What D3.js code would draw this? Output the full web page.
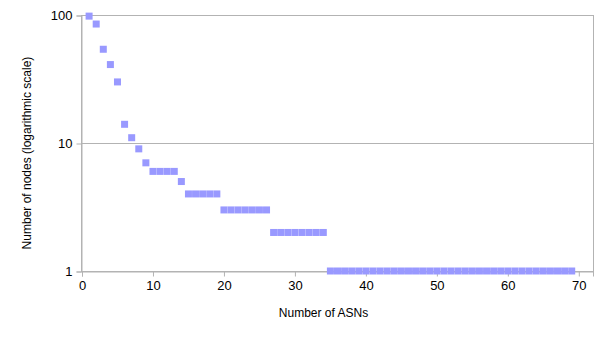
<!DOCTYPE html>
<html>
<head>
<meta charset="utf-8">
<script src="https://cdn.jsdelivr.net/npm/d3@7"></script>
<style>
  body { margin: 0; background: #fff; }
  text { font-family: "Liberation Sans", Arial, sans-serif; fill: #000; }
</style>
</head>
<body>
<svg id="chart" width="605" height="340"></svg>
<script>
// ASN counts (x) and node counts (y)
var asns = d3.range(1, 70);
var nodes = [98, 85, 54, 41, 30, 14, 11, 9, 7,
  6, 6, 6, 6, 5,
  4, 4, 4, 4, 4,
  3, 3, 3, 3, 3, 3, 3,
  2, 2, 2, 2, 2, 2, 2, 2]
  .concat(d3.range(35, 70).map(function() { return 1; }));
var xTicks = [0, 10, 20, 30, 40, 50, 60, 70];
var yTicks = [1, 10, 100];

var svg = d3.select('#chart');
var margin = { top: 15, right: 12, bottom: 69, left: 82 };
var width = 605 - margin.left - margin.right,
  height = 340 - margin.top - margin.bottom;

var x = d3.scaleLinear().domain([0, 72]).range([0, width]);
var y = d3.scaleLog().domain([1, 100]).range([height, 0]);

var g = svg.append('g')
  .attr('transform', 'translate(' + margin.left + ',' + margin.top + ')');

// grid lines
g.selectAll('.grid')
  .data(yTicks)
  .enter().append('line')
  .attr('x1', 0).attr('x2', width)
  .attr('y1', function(d) { return y(d) + 0.5; })
  .attr('y2', function(d) { return y(d) + 0.5; })
  .attr('stroke', '#b3b3b3');

// frame
g.append('rect')
  .attr('x', -0.5).attr('y', 0.5)
  .attr('width', width + 1).attr('height', height)
  .attr('fill', 'none').attr('stroke', '#b3b3b3');

var xAxis = g.append('g')
  .attr('transform', 'translate(0,' + (height + 0.5) + ')')
  .call(d3.axisBottom(x).tickValues(xTicks).tickSize(5).tickPadding(4).tickFormat(d3.format('d')));
var yAxis = g.append('g')
  .attr('transform', 'translate(-0.5,0.5)')
  .call(d3.axisLeft(y).tickValues(yTicks).tickSize(5).tickPadding(4).tickFormat(d3.format('d')));

[xAxis, yAxis].forEach(function(a) {
  a.select('.domain').attr('stroke', '#b3b3b3');
  a.selectAll('.tick line').attr('stroke', '#b3b3b3');
  a.selectAll('.tick text').style('font-size', '13px')
    .style('font-family', '"Liberation Sans", Arial, sans-serif').attr('fill', '#000');
});

// markers
var data = asns.map(function(a, i) { return { x: a, y: nodes[i] }; });
g.selectAll('.pt')
  .data(data)
  .enter().append('rect')
  .attr('class', 'pt')
  .attr('x', function(d) { return x(d.x) - 3.5; })
  .attr('y', function(d) { return y(d.y) - 3.5; })
  .attr('width', 7)
  .attr('height', 7)
  .attr('fill', '#9999ff');

// axis titles
g.append('text')
  .attr('transform', 'rotate(-90)')
  .attr('x', -height / 2 - 10)
  .attr('y', -51)
  .attr('text-anchor', 'middle')
  .style('font-size', '12px')
  .text('Number of nodes (logarithmic scale)');

g.append('text')
  .attr('x', width / 2 - 14)
  .attr('y', height + 46)
  .attr('text-anchor', 'middle')
  .style('font-size', '12px')
  .text('Number of ASNs');
</script>
</body>
</html>
